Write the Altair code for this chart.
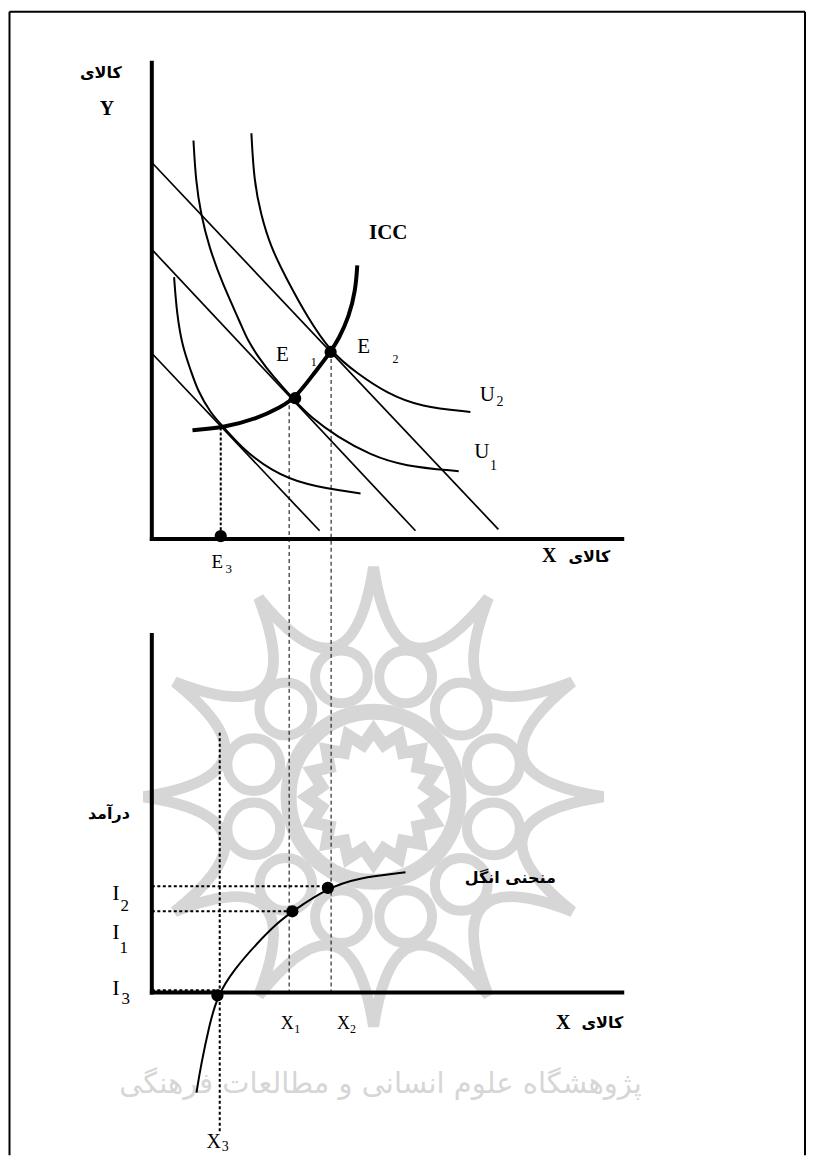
import math
import altair as alt
import pandas as pd

# ---------------- scale set-up (diagram units) ----------------
X_DOMAIN = [-14.3, 65.5]
TOP_DOMAIN = [-5.9, 53.1]
BOT_DOMAIN = [-16.3, 39.5]
PANEL_W = 798
TOP_H = 590
BOT_H = 558

SERIF = "Liberation Serif"
FARSI = "DejaVu Sans"
WM_GREY = "#d6d6d6"

# ---------------- top panel data ----------------
AXIS_TOP_Y_END = 47.7
AXIS_TOP_X_END = 47.1

BUDGET_X0 = [0, 0, 0]
BUDGET_Y0 = [18.6, 29.0, 37.7]
BUDGET_X1 = [16.8, 26.4, 34.7]
BUDGET_Y1 = [0.83, 0.83, 0.97]

U0_X = [2.23, 2.5, 3.07, 3.9, 4.57, 5.9, 7.23, 9.23, 11.9, 15.23, 20.9]
U0_Y = [26.23, 22.57, 19.23, 16.9, 14.9, 12.57, 11.17, 8.9, 6.9, 5.4, 4.57]

U1_X = [4.17, 4.4, 4.9, 5.73, 7.07, 8.9, 9.57, 10.9, 11.9, 14.35, 15.9, 18.57, 21.9, 25.23, 30.73]
U1_Y = [39.9, 35.9, 32.57, 29.23, 25.57, 21.57, 19.9, 17.9, 16.57, 13.8, 12.2, 10.23, 8.4, 7.3, 6.8]

U2_X = [9.97, 10.23, 10.9, 11.9, 13.57, 15.57, 17.9, 20.57, 23.57, 26.9, 31.9]
U2_Y = [40.63, 35.9, 32.57, 29.23, 25.9, 22.23, 18.73, 16.57, 14.57, 13.23, 12.73]

ICC_X = [4.07, 7.23, 10.57, 12.9, 14.35, 16.23, 17.9, 18.73, 19.73, 20.4, 20.57]
ICC_Y = [10.9, 11.17, 12.07, 13.23, 14.1, 16.57, 18.73, 20.07, 22.23, 24.9, 27.4]

# equilibrium points: E3 (on axis), E1, E2
TOP_DOT_X = [6.9, 14.35, 17.9]
TOP_DOT_Y = [0.3, 14.1, 18.73]

# drop lines from E3, E1, E2
DROP_X = [6.9, 13.75, 17.95]
DROP_Y = [11.17, 14.1, 18.73]

# ---------------- bottom panel data ----------------
AXIS_BOT_Y_END = 35.8
AXIS_BOT_X_END = 47.1

ENGEL_X = [4.47, 4.9, 5.73, 6.57, 8.23, 10.57, 12.57, 14.07, 17.63, 20.57, 25.4]
ENGEL_Y = [-10.03, -7.37, -3.37, -0.3, 2.3, 4.97, 6.97, 8.13, 10.47, 11.47, 12.03]

BOT_DOT_X = [6.57, 14.07, 17.63]
BOT_DOT_Y = [-0.3, 8.13, 10.47]

INCOME_LEVELS = [10.63, 8.13, 0.23]   # I2, I1, I3
INCOME_X_END = [17.57, 13.9, 6.7]

X3_LINE_X = 6.8
X3_LINE_TOP = 26.0
X3_LINE_BOTTOM = -13.9

# frame
FRAME_LEFT = -14.25
FRAME_RIGHT = 65.4
FRAME_TOP = 52.8

# watermark (decoration, behind everything) - centre in top-panel units
WM_CENTER_X = [22.2]
WM_CENTER_Y = [-25.8]
WM_TEXT = "پژوهشگاه علوم انسانی و مطالعات فرهنگی"


def xs():
    return alt.Scale(domain=X_DOMAIN, nice=False, zero=False)


def ys(dom):
    return alt.Scale(domain=dom, nice=False, zero=False)


def seg_layer(x0, y0, x1, y1, dom, width=1.0, dash=None, color="black", cap="butt"):
    df = pd.DataFrame({"x": x0, "y": y0, "x2": x1, "y2": y1})
    kw = dict(color=color, strokeWidth=width, strokeCap=cap)
    if dash:
        kw["strokeDash"] = dash
    return alt.Chart(df).mark_rule(**kw).encode(
        x=alt.X("x:Q", scale=xs(), axis=None),
        y=alt.Y("y:Q", scale=ys(dom), axis=None),
        x2="x2:Q",
        y2="y2:Q",
    )


def curve_layer(xv, yv, dom, width=2.0, interp="basis"):
    df = pd.DataFrame({"x": xv, "y": yv, "i": list(range(len(xv)))})
    return alt.Chart(df).mark_line(
        interpolate=interp, color="black", strokeWidth=width
    ).encode(
        x=alt.X("x:Q", scale=xs(), axis=None),
        y=alt.Y("y:Q", scale=ys(dom), axis=None),
        order="i:Q",
    )


def dot_layer(xv, yv, dom, size=150):
    df = pd.DataFrame({"x": xv, "y": yv})
    return alt.Chart(df).mark_point(
        filled=True, color="black", size=size, opacity=1, shape="circle"
    ).encode(
        x=alt.X("x:Q", scale=xs(), axis=None),
        y=alt.Y("y:Q", scale=ys(dom), axis=None),
    )


def text_layer(texts, xv, yv, dom, font=SERIF, size=20, weight="normal",
               align="center", color="black"):
    df = pd.DataFrame({"x": xv, "y": yv, "t": texts})
    return alt.Chart(df).mark_text(
        font=font, fontSize=size, fontWeight=weight, align=align,
        baseline="middle", color=color
    ).encode(
        x=alt.X("x:Q", scale=xs(), axis=None),
        y=alt.Y("y:Q", scale=ys(dom), axis=None),
        text="t:N",
    )


# ---------- watermark rosette shapes (decorative symbol paths) ----------
def _pt(ang_deg, r):
    a = math.radians(ang_deg)
    return f"{r * math.sin(a):.4f},{-r * math.cos(a):.4f}"


def star_path():
    p = "M" + _pt(0, 1.0)
    for k in range(12):
        p += " Q" + _pt(30 * k + 15, 0.38) + " " + _pt(30 * (k + 1), 1.0)
    return p + " Z"


def petals_path():
    p = ""
    r = 0.115
    for k in range(12):
        a = math.radians(30 * k + 15)
        cx, cy = 0.54 * math.sin(a), -0.54 * math.cos(a)
        p += (f"M{cx + r:.4f},{cy:.4f} A{r},{r} 0 1 0 {cx - r:.4f},{cy:.4f} "
              f"A{r},{r} 0 1 0 {cx + r:.4f},{cy:.4f} ")
    return p


def center_path():
    p = ""
    for k in range(32):
        r = 0.29 if k % 2 == 0 else 0.23
        p += ("M" if k == 0 else " L") + _pt(k * 11.25, r)
    return p + " Z"


def ring_path(r):
    return f"M{r},0 A{r},{r} 0 1 0 {-r},0 A{r},{r} 0 1 0 {r},0 Z"


def wm_shape(path, width, dom):
    df = pd.DataFrame({"x": WM_CENTER_X, "y": WM_CENTER_Y})
    return alt.Chart(df).mark_point(
        shape=path, size=460 * 460, filled=False, color=WM_GREY,
        strokeWidth=width, opacity=1
    ).encode(
        x=alt.X("x:Q", scale=xs(), axis=None),
        y=alt.Y("y:Q", scale=ys(dom), axis=None),
    )


# ---------------- top panel ----------------
T = TOP_DOMAIN
top_layers = [
    # watermark
    wm_shape(star_path(), 11, T),
    wm_shape(petals_path(), 10, T),
    wm_shape(ring_path(0.37), 16, T),
    wm_shape(center_path(), 12, T),
    text_layer([WM_TEXT], [22.9], [-54.6], T, font=FARSI, size=29, color=WM_GREY),
    # frame
    seg_layer([FRAME_LEFT, FRAME_LEFT, FRAME_RIGHT], [FRAME_TOP, FRAME_TOP, FRAME_TOP],
              [FRAME_RIGHT, FRAME_LEFT, FRAME_RIGHT], [FRAME_TOP, T[0], T[0]], T, width=2),
    # budget lines
    seg_layer(BUDGET_X0, BUDGET_Y0, BUDGET_X1, BUDGET_Y1, T, width=1.7),
    # indifference curves
    curve_layer(U0_X, U0_Y, T, 2),
    curve_layer(U1_X, U1_Y, T, 2),
    curve_layer(U2_X, U2_Y, T, 2),
    # ICC
    curve_layer(ICC_X, ICC_Y, T, 4),
    # drop lines
    seg_layer([DROP_X[0]], [DROP_Y[0]], [DROP_X[0]], [0], T, width=2, dash=[3, 2]),
    seg_layer(DROP_X[1:], DROP_Y[1:], DROP_X[1:], [T[0], T[0]], T, width=1, dash=[4, 3]),
    # axes
    seg_layer([0, 0], [AXIS_TOP_Y_END, 0], [0, AXIS_TOP_X_END], [0, 0], T, width=4, cap="square"),
    dot_layer(TOP_DOT_X, TOP_DOT_Y, T),
    # labels
    text_layer(["کالای"], [-5.1], [46.7], T, font=FARSI, size=16, weight="bold"),
    text_layer(["Y"], [-4.5], [43.1], T, size=20, weight="bold"),
    text_layer(["ICC"], [23.67], [30.63], T, size=21, weight="bold"),
    text_layer(["E", "E", "U", "U"], [13.07, 21.2, 33.6, 33.05], [18.4, 19.23, 14.4, 8.7], T, size=21),
    text_layer(["1", "2"], [16.2, 24.4], [17.73, 18.0], T, size=12),
    text_layer(["2", "1"], [34.85, 34.2], [13.7, 7.35], T, size=14),
    text_layer(["E"], [6.55], [-2.3], T, size=19),
    text_layer(["3"], [7.7], [-3.0], T, size=13),
    text_layer(["X"], [39.8], [-1.7], T, size=20, weight="bold"),
    text_layer(["کالای"], [45.9], [-1.77], T, font=FARSI, size=16, weight="bold", align="right"),
]
top = alt.layer(*top_layers).properties(width=PANEL_W, height=TOP_H)

# ---------------- bottom panel ----------------
B = BOT_DOMAIN
bot_layers = [
    # frame
    seg_layer([FRAME_LEFT, FRAME_RIGHT], [B[1], B[1]], [FRAME_LEFT, FRAME_RIGHT], [B[0], B[0]], B, width=2),
    # dashed drop lines continuing from top panel
    seg_layer(DROP_X[1:], [B[1], B[1]], DROP_X[1:], [0, 0], B, width=1, dash=[4, 3]),
    # dotted income lines
    seg_layer([0, 0, 0], INCOME_LEVELS, INCOME_X_END, INCOME_LEVELS, B, width=2, dash=[3, 2.5]),
    seg_layer([X3_LINE_X], [X3_LINE_TOP], [X3_LINE_X], [X3_LINE_BOTTOM], B, width=2, dash=[3, 2.5]),
    # Engel curve
    curve_layer(ENGEL_X, ENGEL_Y, B, 2),
    # axes
    seg_layer([0, 0], [AXIS_BOT_Y_END, 0], [0, AXIS_BOT_X_END], [0, 0], B, width=4, cap="square"),
    dot_layer(BOT_DOT_X, BOT_DOT_Y, B),
    # labels
    text_layer(["درآمد"], [-4.3], [17.85], B, font=FARSI, size=16, weight="bold"),
    text_layer(["منحنی انگل"], [35.9], [11.5], B, font=FARSI, size=16, weight="bold"),
    text_layer(["I", "I", "I"], [-3.6, -3.6, -3.6], [10.0, 6.05, 0.4], B, size=22),
    text_layer(["2", "1", "3"], [-2.7, -2.8, -2.6], [8.7, 4.5, -0.7], B, size=17),
    text_layer(["X", "X"], [13.57, 19.2], [-3.2, -3.2], B, size=18),
    text_layer(["1", "2"], [14.57, 20.15], [-3.7, -3.7], B, size=12),
    text_layer(["X"], [6.2], [-15.0], B, size=20),
    text_layer(["3"], [7.35], [-15.45], B, size=14),
    text_layer(["X"], [41.2], [-3.1], B, size=20, weight="bold"),
    text_layer(["کالای"], [47.2], [-3.1], B, font=FARSI, size=16, weight="bold", align="right"),
]
bottom = alt.layer(*bot_layers).properties(width=PANEL_W, height=BOT_H)

chart = alt.vconcat(top, bottom, spacing=0, bounds="flush", padding=0).configure_view(stroke=None)

chart.save("out.html", embed_options={"renderer": "svg", "actions": False})
